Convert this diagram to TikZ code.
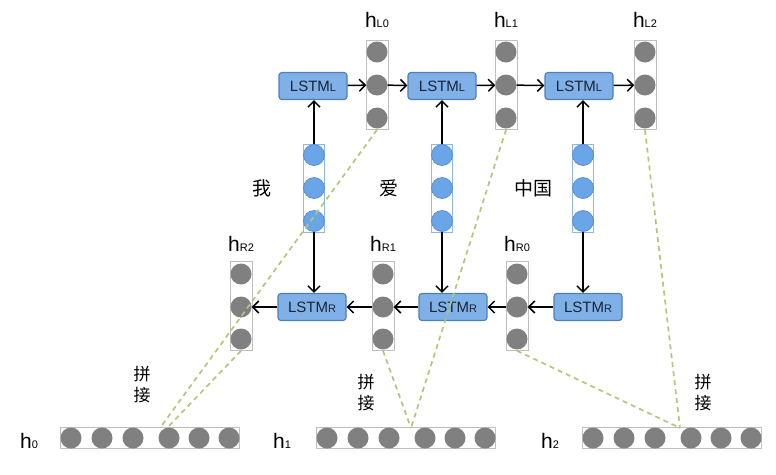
\documentclass[tikz,border=0pt]{standalone}
\usepackage{fontspec}
\setmainfont{Liberation Sans}
\newfontfamily\cjk{Noto Sans CJK SC}
\usetikzlibrary{arrows.meta}

\begin{document}
\begin{tikzpicture}[x=1pt,y=-1pt,
  lstmbox/.style={draw=lstmline,fill=lstmfill,rounded corners=3pt,line width=1.2pt,minimum width=68pt,minimum height=27pt,inner sep=0pt,text=lstmtext,font=\fontsize{15}{15}\selectfont},
  graycol/.style={draw=black!25,fill=white,line width=0.6pt,minimum width=22pt,minimum height=89pt,inner sep=0pt},
  bluecol/.style={draw=bluecolline,fill=white,line width=0.8pt,minimum width=21pt,minimum height=88pt,inner sep=0pt},
  rowbox/.style={draw=black!25,fill=white,line width=0.6pt,minimum width=179pt,minimum height=21pt,inner sep=0pt},
  graydot/.style={circle,fill=dotgray,minimum size=21pt,inner sep=0pt},
  bluedot/.style={circle,draw=bluedotline,fill=bluedotfill,line width=0.6pt,minimum size=21pt,inner sep=0pt},
  hlabel/.style={font=\fontsize{21}{21}\selectfont},
  word/.style={font=\cjk\fontsize{19}{19}\selectfont},
  pinjie/.style={font=\cjk\fontsize{17}{17}\selectfont,align=center,inner sep=0pt},
  arr/.style={-{Straight Barb[length=6pt,width=12pt]},line width=1.5pt},
  joinline/.style={draw=joingreen,line width=1.7pt,dash pattern=on 5pt off 4pt}]
\definecolor{lstmfill}{HTML}{80B0E8}
\definecolor{lstmline}{HTML}{4F7FB5}
\definecolor{lstmtext}{HTML}{1A2436}
\definecolor{bluecolline}{HTML}{8DB8E6}
\definecolor{bluedotfill}{HTML}{6AA5E8}
\definecolor{bluedotline}{HTML}{4D86CC}
\definecolor{dotgray}{HTML}{808080}
\definecolor{joingreen}{HTML}{B3C67C}
\useasboundingbox (0,0) rectangle (776,474);
% forward LSTM row
\foreach \k/\bx/\hx in {0/313/377,1/442/506,2/579/645}
{ \node[lstmbox] (lstmL\k) at (\bx,86) {LSTM{\fontsize{11}{11}\selectfont L}};
  \node[graycol] (hL\k) at (\hx,85) {};
  \foreach \j/\y in {a/52,b/85,c/118}
    {\node[graydot] (hL\k\j) at (\hx,\y) {};}
  \node[hlabel] (lab-hL\k) at (\hx,20) {h{\fontsize{11}{11}\selectfont L\k}};
  \draw[arr] (lstmL\k) -- (hL\k b);}
\draw[arr] (hL0b) -- (lstmL1);
\draw[arr] (hL1b) -- (lstmL2);
% word embeddings
\foreach \k/\cx/\wx/\w in {0/314/262/我,1/442/389/爱,2/583/533/中国}
{ \node[bluecol] (emb\k) at (\cx,188) {};
  \foreach \j/\y in {a/155,b/188,c/221}
    {\node[bluedot] (emb\k\j) at (\cx,\y) {};}
  \node[word] (word\k) at (\wx,188) {\w};
  \draw[arr] (emb\k.north) -- (emb\k.north |- lstmL\k.south);}
% backward LSTM row
\foreach \k/\bx/\hx/\cx in {0/588/517/583,1/453/383/442,2/312/241/314}
{ \node[lstmbox] (lstmR\k) at (\bx,307) {LSTM{\fontsize{11}{11}\selectfont R}};
  \node[graycol] (hR\k) at (\hx,306) {};
  \foreach \j/\y in {a/274,b/307,c/339}
    {\node[graydot] (hR\k\j) at (\hx,\y) {};}
  \node[hlabel] (lab-hR\k) at (\hx,244) {h{\fontsize{11}{11}\selectfont R\k}};
  \draw[arr] (emb\k.south) -- (emb\k.south |- lstmR\k.north);
  \draw[arr] (lstmR\k) -- (hR\k b);}
\draw[arr] (hR0b) -- (lstmR1);
\draw[arr] (hR1b) -- (lstmR2);
% concatenated outputs
\foreach \k/\rx/\lx in {0/150/29,1/406/282,2/672/550}
{ \node[rowbox] (row\k) at (\rx,438) {};
  \foreach \j/\dx in {1/-79,2/-48,3/-17,4/19,5/49,6/79}
    {\node[graydot] (row\k d\j) at (\rx+\dx,438) {};}
  \node[hlabel] (lab-h\k) at (\lx,441) {h{\fontsize{11}{11}\selectfont \k}};}
\node[pinjie] (pj0) at (142,385) {拼\\[4pt]接};
\node[pinjie] (pj1) at (366,393) {拼\\[4pt]接};
\node[pinjie] (pj2) at (703,393) {拼\\[4pt]接};
\coordinate (j0a) at (160,428);
\coordinate (j0b) at (167,428);
\coordinate (j1) at (411,428);
\coordinate (j2) at (680,428);
\draw[joinline] (hL0.south) -- (j0a);
\draw[joinline] (hR2.south) -- (j0b);
\draw[joinline] (hL1.south) -- (j1);
\draw[joinline] (hR1.south) -- (j1);
\draw[joinline] (hL2.south) -- (j2);
\draw[joinline] (hR0.south) -- (j2);
\end{tikzpicture}
\end{document}
